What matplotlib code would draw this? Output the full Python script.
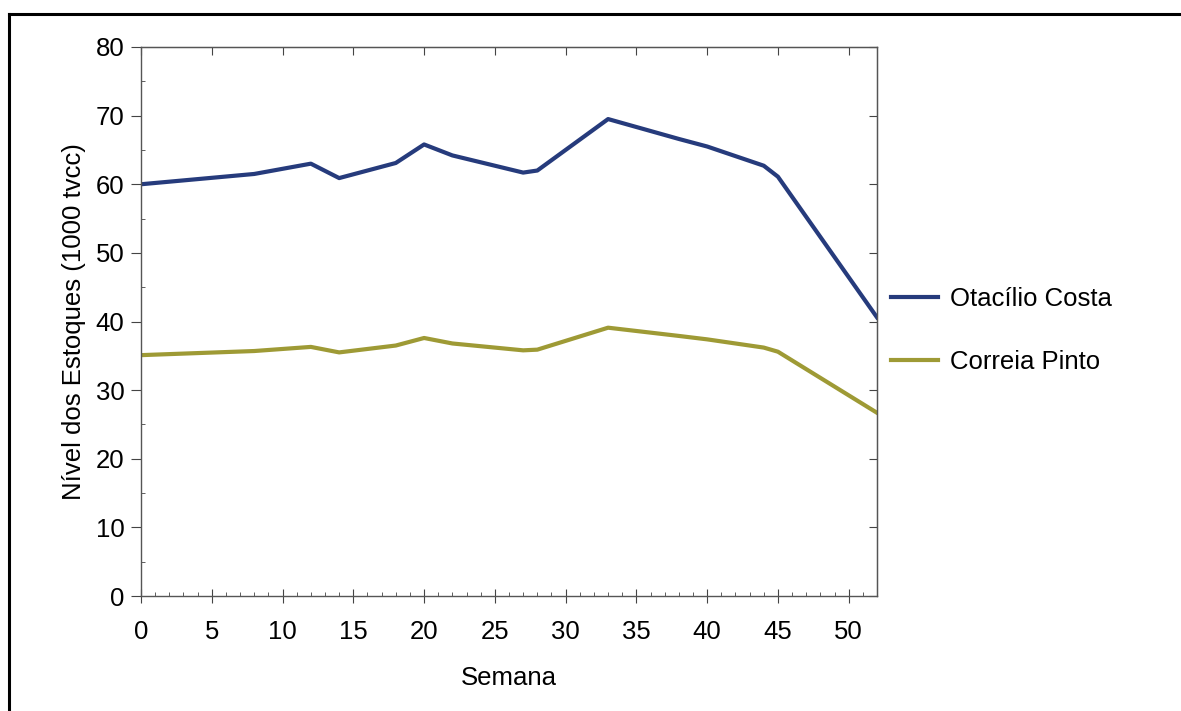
import matplotlib
matplotlib.use("Agg")
import matplotlib.pyplot as plt
from matplotlib.lines import Line2D
from matplotlib.ticker import MultipleLocator

plt.rcParams['font.family'] = ['Liberation Sans', 'DejaVu Sans']

semana = [0, 8, 12, 14, 18, 20, 22, 27, 28, 33, 38, 40, 44, 45, 52]
otacilio = [60.0, 61.5, 63.0, 60.9, 63.1, 65.8, 64.2, 61.7, 62.0, 69.5, 66.6, 65.5, 62.7, 61.1, 40.6]
correia = [35.1, 35.7, 36.3, 35.5, 36.5, 37.6, 36.8, 35.8, 35.9, 39.1, 37.9, 37.4, 36.2, 35.6, 26.7]

fs = 18.5
fig = plt.figure(figsize=(11.81, 7.11), dpi=100)
ax = fig.add_axes([0.1194, 0.1617, 0.6232, 0.7722])

ax.plot(semana, otacilio, color='#263b7c', lw=3, label='Otacílio Costa')
ax.plot(semana, correia, color='#9e9a35', lw=3, label='Correia Pinto')

ax.set_xlim(0, 52)
ax.set_ylim(0, 80)
ax.xaxis.set_major_locator(MultipleLocator(5))
ax.xaxis.set_minor_locator(MultipleLocator(1))
ax.yaxis.set_major_locator(MultipleLocator(10))
ax.yaxis.set_minor_locator(MultipleLocator(5))

for s in ax.spines.values():
    s.set_color('#555555')
    s.set_linewidth(1)

ax.tick_params(axis='x', which='major', direction='inout', length=10, labelsize=fs, pad=12, color='#444444')
ax.tick_params(axis='x', which='minor', direction='in', length=3, color='#444444')
ax.tick_params(axis='y', which='major', direction='out', length=7, labelsize=fs, pad=5, color='#444444')
ax.tick_params(axis='y', which='minor', direction='in', length=3, color='#444444')

# marcas internas no topo e na direita
top = ax.secondary_xaxis('top')
top.xaxis.set_major_locator(MultipleLocator(5))
top.tick_params(direction='in', length=6, labeltop=False, color='#444444')
right = ax.secondary_yaxis('right')
right.yaxis.set_major_locator(MultipleLocator(10))
right.tick_params(direction='in', length=6, labelright=False, color='#444444')
for sec in (top, right):
    for s in sec.spines.values():
        s.set_color('#555555')

ax.set_xlabel('Semana', fontsize=fs, labelpad=16)
ax.set_ylabel('Nível dos Estoques (1000 tvcc)', fontsize=fs, labelpad=7)

leg = ax.legend(loc='upper left', bbox_to_anchor=(0.988, 0.605), frameon=False,
                fontsize=fs, handlelength=1.8, handletextpad=0.5, labelspacing=1.5)

# moldura externa
fig.add_artist(Line2D([9/1181, 9/1181], [0, 1 - 14/711], transform=fig.transFigure, color='black', lw=2.2))
fig.add_artist(Line2D([9/1181, 1], [1 - 14/711, 1 - 14/711], transform=fig.transFigure, color='black', lw=2.2))

fig.savefig('out.png', dpi=100)
